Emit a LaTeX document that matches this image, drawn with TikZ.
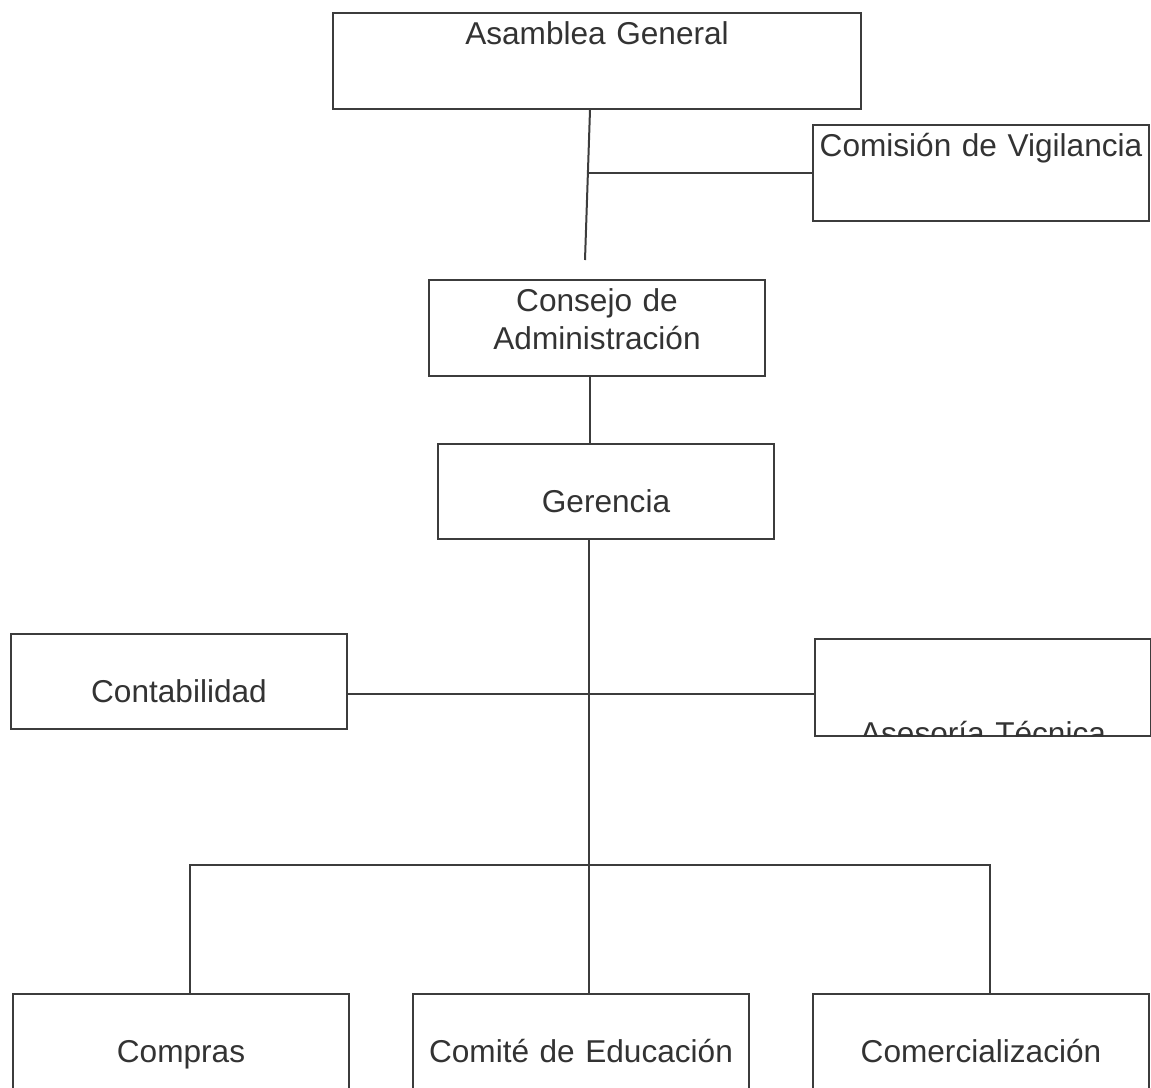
\documentclass[tikz,border=0pt]{standalone}
\usepackage{fontspec}
\setmainfont{Liberation Sans}
\usetikzlibrary{positioning}
\definecolor{boxline}{RGB}{60,60,60}
\definecolor{boxtext}{RGB}{51,51,51}

\begin{document}
\begin{tikzpicture}[
      x=0.5pt, y=-0.5pt,
      box/.style={rectangle, draw=boxline, line width=1pt, inner sep=0pt,
                  text width=168pt, align=center, text=boxtext,
                  font=\fontsize{15.8pt}{19pt}\selectfont},
      toptext/.style={text height=15.5pt, text depth=32.5pt},
      midtext/.style={text height=34pt, text depth=13.5pt},
      lowtext/.style={text height=34pt, text depth=16pt},
      link/.style={draw=boxline, line width=1pt}
    ]

    % page frame
    \useasboundingbox (0,0) rectangle (1151,1087);
    \clip (0,0) rectangle (1151,1087);

    % Top level
    \node[box, toptext, text width=264pt, anchor=north west] (asamblea) at (332,12) {Asamblea General};
    \node[box, toptext, anchor=north west] (comision) at (812,124) {Comisión de Vigilancia};
    \node[box, toptext, anchor=north west] (consejo) at (428,279) {Consejo de\\Administración};
    \node[box, midtext, anchor=north west] (gerencia) at (437,443) {Gerencia};

    % Staff units
    \node[box, midtext, anchor=north west] (contab) at (10,633) {Contabilidad};
    \begin{scope}
      \clip (800,600) rectangle (1151,736);
      \node[box, text height=48.5pt, text depth=0pt, anchor=north west] (asesoria) at (814,638)
        {\raisebox{-4pt}{Asesoría Técnica}};
    \end{scope}

    % Bottom row
    \node[box, lowtext, anchor=north west] (compras) at (12,993) {Compras};
    \node[box, lowtext, right=31pt of compras] (comite) {Comité de Educación};
    \node[box, lowtext, right=31pt of comite] (comerc) {Comercialización};

    % Connectors
    \coordinate (agfoot) at (585,260);
    \draw[link] ([xshift=-3.5pt]asamblea.south) -- (agfoot);
    \draw[link] (comision.west) -- ([xshift=1pt]comision.west -| agfoot);

    \draw[link] ([xshift=-3.5pt]consejo.south) -- ([xshift=-3.5pt]consejo.south |- gerencia.north);

    \coordinate (trunk) at (589,888);
    \draw[link] (gerencia.south -| trunk) -- (trunk);

    \coordinate (hub) at (589,694);
    \draw[link] (hub -| contab.east) -- (hub -| asesoria.west);

    \coordinate (fork) at (589,865);
    \draw[link] ([xshift=4.5pt]compras.north) |- (fork) -| ([xshift=4.5pt]comerc.north);
    \draw[link] (comite.north -| fork) -- (fork);

  \end{tikzpicture}
\end{document}
